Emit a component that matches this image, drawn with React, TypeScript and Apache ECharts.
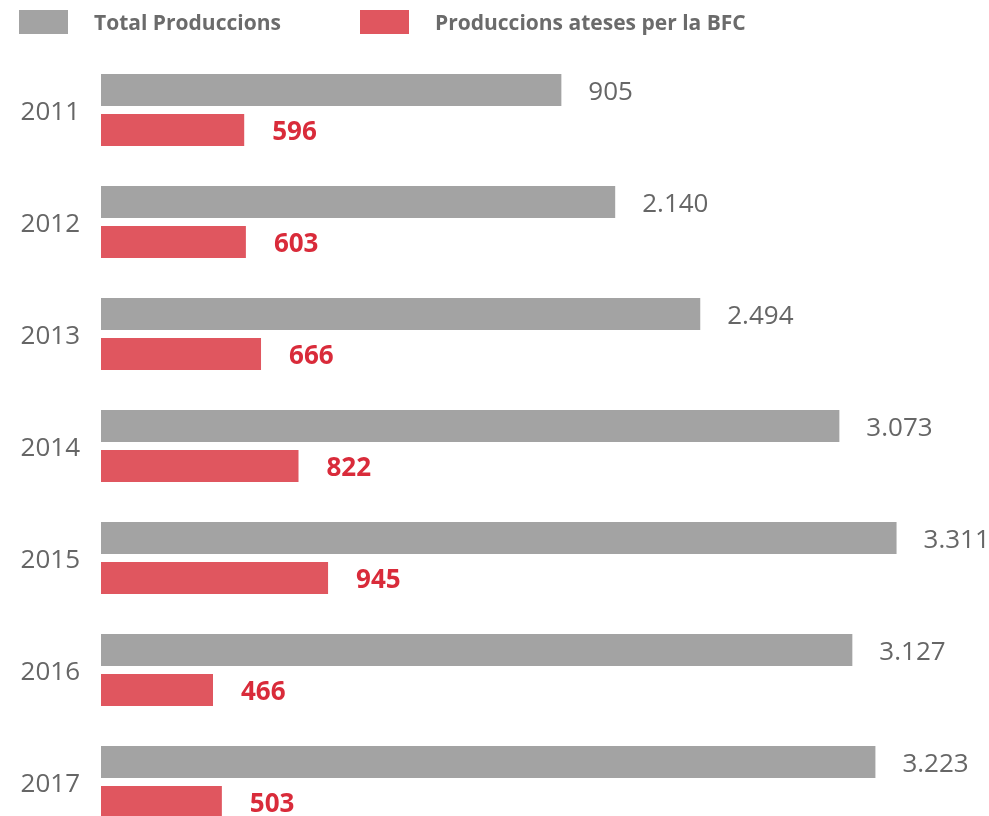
import React, { useEffect, useRef } from "react";
import * as echarts from "echarts";

const years = ["2011", "2012", "2013", "2014", "2015", "2016", "2017"];
// Printed totals
const totalLabels = [905, 2140, 2494, 3073, 3311, 3127, 3223];
// Grey bar lengths as drawn in the picture (the 2011 bar is drawn longer than its printed value)
const totalBars = [1916, 2140, 2494, 3073, 3311, 3127, 3223];
const bfcValues = [596, 603, 666, 822, 945, 466, 503];

const seriesNames = ["Total Produccions", "Produccions ateses per la BFC"];

const fmt = (n: number) => String(n).replace(/\B(?=(\d{3})+(?!\d))/g, ".");

export default function App() {
  const ref = useRef<HTMLDivElement>(null);
  useEffect(() => {
    if (!ref.current) return;
    const chart = echarts.init(ref.current, undefined, { renderer: "svg" });
    const font = "'Open Sans', sans-serif";
    const legendText = { fontFamily: font, fontSize: 21, fontWeight: "bold", color: "#6b6b6b", padding: [0, 0, 0, 21] };
    chart.setOption({
      animation: false,
      textStyle: { fontFamily: font },
      legend: [
        {
          data: [seriesNames[0]],
          left: 14,
          top: 5,
          icon: "rect",
          itemWidth: 49,
          itemHeight: 24,
          selectedMode: false,
          textStyle: legendText,
        },
        {
          data: [seriesNames[1]],
          left: 355,
          top: 5,
          icon: "rect",
          itemWidth: 49,
          itemHeight: 24,
          selectedMode: false,
          textStyle: legendText,
        },
      ],
      grid: { left: 101, right: 23, top: 54, bottom: 12, containLabel: false },
      xAxis: {
        type: "value",
        min: 0,
        max: 3600,
        show: false,
      },
      yAxis: {
        type: "category",
        data: years,
        inverse: true,
        axisLine: { show: false },
        axisTick: { show: false },
        axisLabel: { fontFamily: font, fontSize: 26, color: "#666666", margin: 21 },
      },
      series: [
        {
          name: seriesNames[0],
          type: "bar",
          data: totalBars,
          barWidth: 32,
          barGap: "25%",
          itemStyle: { color: "#a3a3a3" },
          label: {
            show: true,
            position: "right",
            distance: 27,
            fontFamily: font,
            fontSize: 26,
            color: "#666666",
            formatter: (p: any) => fmt(totalLabels[p.dataIndex]),
          },
        },
        {
          name: seriesNames[1],
          type: "bar",
          data: bfcValues,
          barWidth: 32,
          itemStyle: { color: "#e0565f" },
          label: {
            show: true,
            position: "right",
            distance: 28,
            fontFamily: font,
            fontSize: 26,
            fontWeight: "bold",
            color: "#d92b3a",
            formatter: (p: any) => fmt(p.value),
          },
        },
      ],
    });
    return () => chart.dispose();
  }, []);
  return (
    <div
      ref={ref}
      style={{ position: "fixed", left: 0, top: 0, width: 989, height: 850 }}
    />
  );
}
